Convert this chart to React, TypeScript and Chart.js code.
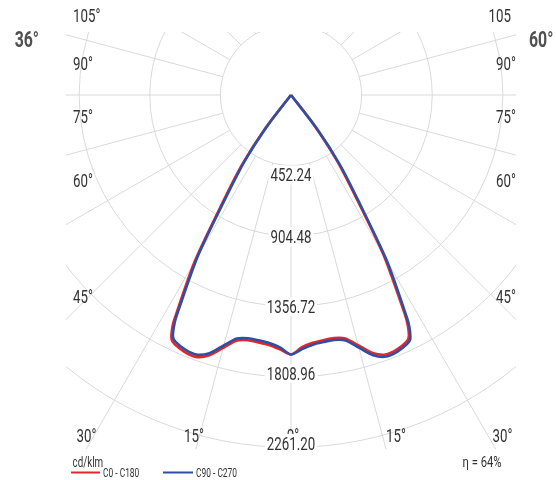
import React, { useEffect, useRef } from "react";
import { Chart, registerables } from "chart.js";

Chart.register(...registerables);

// ---- data -------------------------------------------------------------
const gammaAngles = [0, 2.5, 5, 7.5, 10, 12.5, 15, 17.5, 20, 22.5, 25, 26, 27, 27.5, 30, 32.5, 35, 37.5, 40, 45, 60, 75, 90, 105, 120, 135, 150, 165, 180];
// C0-C180 plane (red): C180 left half, C0 right half
const intensityC180 = [1665, 1634, 1610, 1601, 1598, 1615, 1680, 1753, 1788, 1784, 1764, 1745, 1675, 1608, 1232, 802, 548, 272, 0, 0, 0, 0, 0, 0, 0, 0, 0, 0, 0];
const intensityC0 = [1665, 1620, 1596, 1587, 1584, 1600, 1662, 1735, 1772, 1768, 1748, 1722, 1640, 1565, 1186, 760, 508, 236, 0, 0, 0, 0, 0, 0, 0, 0, 0, 0, 0];
// C90-C270 plane (blue): C270 left half, C90 right half
const intensityC270 = [1665, 1621, 1597, 1588, 1585, 1601, 1663, 1737, 1773, 1769, 1748, 1725, 1642, 1568, 1190, 764, 512, 238, 0, 0, 0, 0, 0, 0, 0, 0, 0, 0, 0];
const intensityC90 = [1665, 1632, 1608, 1599, 1596, 1613, 1678, 1751, 1786, 1782, 1762, 1742, 1670, 1604, 1228, 798, 545, 270, 0, 0, 0, 0, 0, 0, 0, 0, 0, 0, 0];

const ringValues = [452.24, 904.48, 1356.72, 1808.96, 2261.2];
const ringLabels = ["452.24", "904.48", "1356.72", "1808.96", "2261.20"];
const spokeAngles = [0, 15, 30, 45, 60, 75, 90, 105, 120, 135, 150, 165, 180, 195, 210, 225, 240, 255, 270, 285, 300, 315, 330, 345];

const leftAngleLabels = ["105°", "90°", "75°", "60°", "45°"];
const rightAngleLabels = ["105", "90°", "75°", "60°", "45°"];
const bottomAngleLabels = ["30°", "15°", "0°", "15°", "30°"];
const beamLabels = ["36°", "60°"];
const unitLabel = "cd/klm";
const seriesNames = ["C0 - C180", "C90 - C270"];
const efficiencyLabel = "η = 64%";

// ---- styling / layout ------------------------------------------------
const RED = "#e3262b";
const BLUE = "#2f4fa3";
const GRID = "#d9d9d9";
const TEXT = "#333333";
const FONT = "Roboto, 'Liberation Sans', sans-serif";
const SX = 0.7;

const sideLabelBaselines = [22, 70, 123, 187, 303];
const bottomLabelCenters = [86.5, 194, 293, 396, 502.5];
const ringLabelOffsets = [16, 7, 7, 3, 2.5];

function drawText(
  ctx: CanvasRenderingContext2D,
  txt: string,
  x: number,
  baseline: number,
  align: CanvasTextAlign,
  size: number,
  color: string,
  weight = "normal",
  sx = SX
) {
  ctx.save();
  ctx.translate(x, baseline);
  ctx.scale(sx, 1);
  ctx.font = `${weight} ${size}px ${FONT}`;
  ctx.fillStyle = color;
  ctx.textAlign = align;
  ctx.textBaseline = "alphabetic";
  ctx.fillText(txt, 0, 0);
  ctx.restore();
}

function toPoints(left: number[], right: number[]) {
  const pts: { x: number; y: number }[] = [];
  const push = (p: { x: number; y: number }) => {
    const last = pts[pts.length - 1];
    if (last && Math.abs(last.x - p.x) < 1e-6 && Math.abs(last.y - p.y) < 1e-6) return;
    pts.push(p);
  };
  for (let i = gammaAngles.length - 1; i >= 0; i--) {
    const g = (gammaAngles[i] * Math.PI) / 180;
    push({ x: -left[i] * Math.sin(g), y: -left[i] * Math.cos(g) });
  }
  for (let i = 0; i < gammaAngles.length; i++) {
    const g = (gammaAngles[i] * Math.PI) / 180;
    push({ x: right[i] * Math.sin(g), y: -right[i] * Math.cos(g) });
  }
  return pts;
}

const polarGridPlugin = {
  id: "polarGrid",
  beforeDatasetsDraw(chart: any) {
    const { ctx, chartArea, scales } = chart;
    const xs = scales.x;
    const ys = scales.y;
    const cx = xs.getPixelForValue(0);
    const cy = ys.getPixelForValue(0);
    const rx = (v: number) => xs.getPixelForValue(v) - cx;
    const ry = (v: number) => cy - ys.getPixelForValue(v);
    ctx.save();
    ctx.beginPath();
    ctx.rect(chartArea.left, chartArea.top, chartArea.right - chartArea.left, chartArea.bottom - chartArea.top + 1);
    ctx.clip();
    ctx.strokeStyle = GRID;
    ctx.lineWidth = 1;
    ringValues.forEach((v) => {
      ctx.beginPath();
      ctx.ellipse(cx, cy, rx(v), ry(v), 0, 0, Math.PI * 2);
      ctx.stroke();
    });
    const r0 = ringValues[0];
    const r1 = 4000;
    spokeAngles.forEach((a) => {
      const t = (a * Math.PI) / 180;
      const s = Math.sin(t);
      const c = Math.cos(t);
      ctx.beginPath();
      ctx.moveTo(cx + s * rx(r0), cy + c * ry(r0));
      ctx.lineTo(cx + s * rx(r1), cy + c * ry(r1));
      ctx.stroke();
    });
    ctx.restore();

    // angle labels
    const left = chartArea.left;
    const right = chartArea.right;
    leftAngleLabels.forEach((t, i) => drawText(ctx, t, left + 7, sideLabelBaselines[i], "left", 19, TEXT));
    rightAngleLabels.forEach((t, i) =>
      drawText(ctx, t, right - (t.indexOf("°") < 0 ? 5 : 0), sideLabelBaselines[i], "right", 19, TEXT)
    );
    bottomAngleLabels.forEach((t, i) => drawText(ctx, t, bottomLabelCenters[i], 442, "center", 19, TEXT));
  },
  afterDatasetsDraw(chart: any) {
    const { ctx, scales, chartArea } = chart;
    const xs = scales.x;
    const ys = scales.y;
    const cx = xs.getPixelForValue(0);
    // ring labels with white backdrop
    ringValues.forEach((v, i) => {
      const base = ys.getPixelForValue(-v) + ringLabelOffsets[i];
      ctx.save();
      ctx.font = `normal 19px ${FONT}`;
      const w = ctx.measureText(ringLabels[i]).width * SX;
      ctx.fillStyle = "#ffffff";
      ctx.fillRect(cx - w / 2 - 2, base - 16, w + 4, 19);
      ctx.restore();
      drawText(ctx, ringLabels[i], cx, base, "center", 19, TEXT);
    });

    // beam angle labels
    drawText(ctx, beamLabels[0], chartArea.left - 27, 47, "right", 22, "#505050", "bold", 0.72);
    drawText(ctx, beamLabels[1], chartArea.right + 13, 47, "left", 22, "#505050", "bold", 0.72);

    // legend
    drawText(ctx, unitLabel, 72.5, 467, "left", 14, TEXT);
    ctx.save();
    ctx.lineWidth = 2;
    ctx.strokeStyle = RED;
    ctx.beginPath();
    ctx.moveTo(71, 472.5);
    ctx.lineTo(100, 472.5);
    ctx.stroke();
    ctx.strokeStyle = BLUE;
    ctx.beginPath();
    ctx.moveTo(163, 472.5);
    ctx.lineTo(193, 472.5);
    ctx.stroke();
    ctx.restore();
    drawText(ctx, seriesNames[0], 103, 477, "left", 12, TEXT);
    drawText(ctx, seriesNames[1], 196, 477, "left", 12, TEXT);
    drawText(ctx, efficiencyLabel, 462.5, 467, "left", 15, TEXT, "normal", 0.75);
  },
};

export default function App() {
  const ref = useRef<HTMLCanvasElement | null>(null);
  useEffect(() => {
    if (!ref.current) return;
    const chart = new Chart(ref.current, {
      type: "scatter",
      data: {
        datasets: [
          {
            label: seriesNames[1],
            data: toPoints(intensityC270, intensityC90),
            showLine: true,
            borderColor: BLUE,
            backgroundColor: BLUE,
            borderWidth: 2.6,
            pointRadius: 0,
            tension: 0.25,
            fill: false,
            order: 0,
          },
          {
            label: seriesNames[0],
            data: toPoints(intensityC180, intensityC0),
            showLine: true,
            borderColor: RED,
            backgroundColor: RED,
            borderWidth: 2.6,
            pointRadius: 0,
            tension: 0.25,
            fill: false,
            order: 1,
          },
        ],
      },
      options: {
        animation: false,
        responsive: false,
        maintainAspectRatio: false,
        events: [],
        layout: { padding: { left: 66, right: 40, top: 32, bottom: 32 } },
        scales: {
          x: { type: "linear", min: -1441, max: 1441, display: false },
          y: { type: "linear", min: -2265, max: 404, display: false },
        },
        plugins: { legend: { display: false }, tooltip: { enabled: false } },
      },
      plugins: [polarGridPlugin],
    });
    return () => chart.destroy();
  }, []);
  return (
    <div style={{ position: "absolute", left: 0, top: 0, width: 556, height: 480, background: "#fff" }}>
      <canvas ref={ref} width={556} height={480} style={{ display: "block", width: 556, height: 480 }} />
    </div>
  );
}
